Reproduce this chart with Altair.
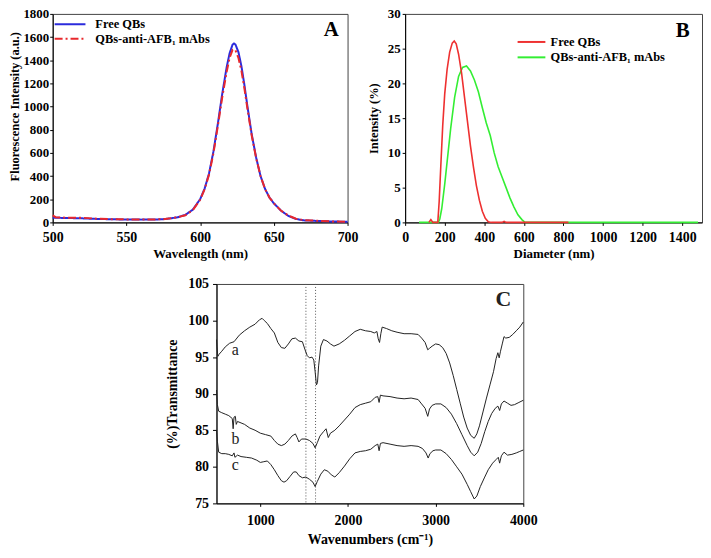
import altair as alt
import pandas as pd

SERIF = "Liberation Serif"

# ---------------- Panel A : fluorescence spectra ----------------
a_series = ["Free QBs", "QBs-anti-AFB₁ mAbs"]
a_wavelength = [500, 502, 510, 520, 530, 540, 550, 560, 570, 575, 580, 585, 590, 595,
                600, 603, 606, 609, 612, 615, 618, 620, 622, 623, 624, 626, 628, 630,
                632, 635, 638, 641, 644, 647, 650, 655, 660, 665, 670, 680, 690, 700]
a_free = [40, 40, 38, 35, 30, 27, 25, 24, 25, 28, 35, 45, 65, 110,
          200, 290, 420, 610, 850, 1110, 1340, 1460, 1535, 1545, 1535, 1470, 1350, 1190,
          1010, 760, 560, 400, 290, 215, 165, 100, 55, 30, 18, 12, 8, 5]
a_conj = [60, 45, 40, 40, 32, 28, 26, 24, 26, 28, 35, 45, 62, 105,
          195, 285, 410, 595, 830, 1080, 1300, 1420, 1490, 1495, 1485, 1420, 1310, 1160,
          990, 750, 555, 400, 290, 215, 165, 100, 58, 32, 20, 14, 8, 6]
a_x_ticks = [500, 550, 600, 650, 700]
a_y_ticks = [0, 200, 400, 600, 800, 1000, 1200, 1400, 1600, 1800]
a_colors = ["#2b2bdc", "#e8282c"]
a_letter = {"wl": [689], "val": [1660], "t": ["A"]}

# ---------------- Panel B : DLS size distribution ----------------
b_series = ["Free QBs", "QBs-anti-AFB₁ mAbs"]
b_free_d = [120, 130, 140, 150, 165, 172, 180, 190, 200, 212, 225, 238, 248, 258, 270,
            285, 300, 315, 330, 345, 360, 375, 390, 405, 420, 435, 460, 490, 500, 510,
            600, 700, 825]
b_free_i = [0, 0.4, 0, 0, 0, 3, 8, 14, 18.5, 22, 24.5, 25.8, 26.1, 25.7, 24.2,
            21.5, 18, 14.5, 11, 8, 5.3, 3.2, 1.6, 0.6, 0.1, 0, 0, 0, 0.15, 0,
            0, 0, 0]
b_conj_d = [70, 100, 150, 168, 175, 185, 200, 215, 230, 250, 270, 290, 310, 330, 350,
            370, 390, 410, 430, 450, 470, 490, 510, 530, 550, 570, 590, 605, 700, 900,
            1200, 1480]
b_conj_i = [0, 0, 0, 0, 0.5, 2, 5.5, 9.5, 13.5, 18, 21, 22.3, 22.5, 21.8, 20.5,
            18.8, 16.5, 14.3, 12.5, 10, 8, 6.5, 5, 3.5, 2.2, 1.1, 0.4, 0, 0, 0,
            0, 0]
b_x_ticks = [0, 200, 400, 600, 800, 1000, 1200, 1400]
b_y_ticks = [0, 5, 10, 15, 20, 25, 30]
b_colors = ["#ee3030", "#33ee33"]
b_letter = {"d": [1403], "i": [27.6], "t": ["B"]}

# ---------------- Panel C : FTIR spectra ----------------
c_a_wn = [500, 505, 515, 530, 560, 600, 650, 700, 760, 820, 880, 940, 990, 1020, 1045,
          1080, 1120, 1160, 1200, 1240, 1280, 1320, 1360, 1400, 1440, 1480, 1510, 1535,
          1560, 1590, 1610, 1625, 1640, 1652, 1665, 1690, 1720, 1760, 1800, 1840, 1900,
          1960, 2020, 2080, 2140, 2200, 2260, 2300, 2330, 2345, 2360, 2375, 2390, 2440,
          2500, 2560, 2640, 2720, 2800, 2840, 2880, 2910, 2930, 2960, 3000, 3040, 3080,
          3120, 3160, 3200, 3240, 3280, 3320, 3360, 3400, 3440, 3470, 3500, 3540, 3580,
          3620, 3660, 3690, 3710, 3725, 3740, 3760, 3780, 3800, 3840, 3880, 3920, 3960, 4000]
c_a_t = [97.4, 96.5, 95.1, 95.4, 95.8, 96.4, 96.9, 97.1, 98.0, 98.6, 99.1, 99.5, 100.1, 100.3, 100.0,
         99.6, 98.9, 98.3, 97.0, 96.3, 96.2, 96.8, 97.5, 97.6, 97.2, 97.1, 96.0, 95.2,
         94.9, 95.0, 94.6, 93.0, 91.2, 91.5, 93.8, 96.5, 97.4, 97.2, 96.8, 96.5, 96.8,
         97.3, 97.9, 98.5, 98.8, 98.6, 98.5, 98.3, 98.5, 97.5, 97.0, 98.2, 99.1, 98.9,
         98.6, 98.4, 98.2, 98.2, 98.1, 97.6, 97.0, 96.0, 96.2, 96.5, 96.8, 96.7, 96.3,
         95.5, 94.2, 92.5, 90.6, 88.7, 86.8, 85.3, 84.3, 83.9, 84.5, 85.6, 87.5, 89.4,
         91.2, 93.0, 94.8, 95.6, 94.9, 95.8, 96.8, 97.8, 97.6, 97.7, 98.1, 98.6, 99.1, 99.8]
c_b_wn = [500, 510, 525, 560, 600, 640, 680, 690, 700, 715, 725, 740, 780, 820, 880,
          940, 1000, 1060, 1120, 1160, 1200, 1240, 1280, 1320, 1360, 1400, 1420, 1440,
          1470, 1520, 1560, 1600, 1625, 1650, 1680, 1720, 1750, 1775, 1800, 1850, 1900,
          1960, 2020, 2080, 2140, 2200, 2260, 2310, 2340, 2355, 2370, 2400, 2480, 2560,
          2640, 2720, 2800, 2840, 2880, 2910, 2930, 2960, 3000, 3060, 3120, 3180, 3240,
          3300, 3360, 3400, 3440, 3480, 3520, 3560, 3600, 3640, 3680, 3710, 3730, 3750,
          3780, 3820, 3860, 3900, 3950, 4000]
c_b_t = [90.5, 88.5, 87.6, 87.4, 87.2, 87.0, 86.6, 85.2, 86.8, 86.9, 85.8, 86.2, 86.0, 85.8, 85.3,
         85.0, 84.6, 84.4, 84.2, 83.6, 83.1, 82.9, 83.1, 83.6, 84.2, 84.5, 84.0, 83.4,
         83.8, 83.8, 83.6, 83.2, 82.6, 83.3, 84.2, 84.8, 85.2, 84.0, 84.6, 85.0, 85.6,
         86.4, 87.2, 88.1, 88.5, 88.7, 88.9, 89.5, 89.6, 88.8, 89.8, 89.7, 89.6, 89.4,
         89.3, 89.4, 89.2, 88.6, 88.0, 86.9, 87.9, 88.4, 88.6, 88.6, 88.1, 87.2, 85.9,
         84.4, 82.9, 82.0, 81.5, 82.0, 83.2, 84.8, 86.2, 87.3, 88.0, 88.3, 87.7, 88.6,
         89.0, 88.7, 88.4, 88.5, 88.8, 89.1]
c_c_wn = [500, 510, 525, 560, 600, 640, 680, 700, 710, 740, 780, 840, 900, 960, 1000,
          1040, 1080, 1120, 1160, 1200, 1240, 1270, 1300, 1340, 1380, 1410, 1440, 1480,
          1520, 1560, 1600, 1625, 1650, 1690, 1730, 1770, 1810, 1850, 1900, 1960, 2020,
          2080, 2140, 2200, 2260, 2310, 2340, 2355, 2370, 2400, 2480, 2560, 2640, 2720,
          2800, 2850, 2890, 2915, 2935, 2970, 3000, 3060, 3120, 3180, 3240, 3300, 3360,
          3400, 3440, 3470, 3510, 3560, 3600, 3650, 3690, 3715, 3730, 3750, 3780, 3820,
          3870, 3920, 3960, 4000]
c_c_t = [85.0, 83.5, 82.0, 81.8, 81.8, 81.7, 81.5, 81.9, 81.3, 81.6, 81.4, 81.3, 81.2, 80.9, 80.6,
         80.7, 80.8, 80.3, 79.6, 78.8, 78.1, 77.9, 78.1, 78.7, 79.3, 79.3, 78.8, 78.5,
         78.6, 78.3, 77.9, 77.3, 78.0, 79.0, 79.6, 79.4, 78.9, 78.6, 79.2, 80.1, 81.1,
         81.9, 82.1, 82.2, 82.4, 82.9, 83.1, 82.2, 83.2, 83.3, 83.1, 82.9, 82.8, 82.9,
         82.8, 82.5, 81.9, 81.2, 81.8, 82.2, 82.3, 82.3, 81.8, 81.0, 80.0, 79.0, 77.6,
         76.6, 75.6, 76.0, 77.3, 78.6, 79.6, 80.5, 81.0, 81.3, 80.5, 81.5, 82.0, 81.6,
         81.7, 81.9, 82.1, 82.3]
c_x_ticks = [1000, 2000, 3000, 4000]
c_y_ticks = [75, 80, 85, 90, 95, 100, 105]
c_dotted = [1520, 1630]
c_labels = {"wn": [715, 715, 715], "tr": [96.0, 83.8, 80.2], "t": ["a", "b", "c"]}
c_letter = {"wn": [3773], "tr": [102.9], "t": ["C"]}

LINE_SYMBOL = "M-3,0H3"

# ---------------- build panel A ----------------
n_a = len(a_wavelength)
dfA = pd.DataFrame({"wl": a_wavelength * 2, "val": a_free + a_conj,
                    "series": [a_series[0]] * n_a + [a_series[1]] * n_a})
legA = alt.Legend(title=None, orient="none", legendX=11, legendY=4, symbolType=LINE_SYMBOL,
                  symbolSize=107, symbolStrokeWidth=2, labelFont=SERIF, labelFontWeight="bold",
                  labelFontSize=12.5, labelOffset=19, padding=0, rowPadding=1.5)
xA = alt.X("wl:Q", scale=alt.Scale(domain=[500, 700], nice=False, zero=False),
           axis=alt.Axis(values=a_x_ticks, title="Wavelength (nm)", titleFontSize=13,
                         tickSize=3, labelPadding=5, titlePadding=3))
yA = alt.Y("val:Q", scale=alt.Scale(domain=[0, 1800], nice=False),
           axis=alt.Axis(values=a_y_ticks, title="Fluorescence Intensity (a.u.)", titleFontSize=12.5,
                         labelFontSize=13, tickSize=3, labelPadding=1, titlePadding=1, titleY=93))
linesA = alt.Chart(dfA).mark_line(strokeWidth=2).encode(
    x=xA, y=yA,
    color=alt.Color("series:N", scale=alt.Scale(domain=a_series, range=a_colors), legend=legA),
    strokeDash=alt.StrokeDash("series:N", scale=alt.Scale(domain=a_series, range=[[1, 0], [8, 3, 2, 3]]),
                              legend=legA),
)
letterA = alt.Chart(pd.DataFrame(a_letter)).mark_text(
    font=SERIF, fontWeight="bold", fontSize=21, align="center", baseline="middle", color="black"
).encode(x=xA, y=yA, text="t:N")
A = alt.layer(linesA, letterA).properties(width=297, height=210)

# ---------------- build panel B ----------------
dfB_free = pd.DataFrame({"d": b_free_d, "i": b_free_i, "grp": b_series[0]})
dfB_conj = pd.DataFrame({"d": b_conj_d, "i": b_conj_i, "grp": b_series[1]})
legB = alt.Legend(title=None, orient="none", legendX=121, legendY=22, symbolType=LINE_SYMBOL,
                  symbolSize=87, symbolStrokeWidth=2, labelFont=SERIF, labelFontWeight="bold",
                  labelFontSize=12.5, labelOffset=13, padding=0, rowPadding=2.5)
xB = alt.X("d:Q", scale=alt.Scale(domain=[0, 1500], nice=False),
           axis=alt.Axis(values=b_x_ticks, title="Diameter (nm)", titleFontSize=13,
                         tickSize=3, labelPadding=5, titlePadding=3))
yB = alt.Y("i:Q", scale=alt.Scale(domain=[0, 30], nice=False),
           axis=alt.Axis(values=b_y_ticks, title="Intensity (%)", titleFontSize=12.5,
                         labelFontSize=13, tickSize=3, labelPadding=2, titlePadding=7))
colB = alt.Color("grp:N", scale=alt.Scale(domain=b_series, range=b_colors), legend=legB)
conjB = alt.Chart(dfB_conj).mark_line(strokeWidth=1.6).encode(x=xB, y=yB, color=colB)
freeB = alt.Chart(dfB_free).mark_line(strokeWidth=1.6).encode(x=xB, y=yB, color=colB)
letterB = alt.Chart(pd.DataFrame(b_letter)).mark_text(
    font=SERIF, fontWeight="bold", fontSize=21, align="center", baseline="middle", color="black"
).encode(x=xB, y=yB, text="t:N")
B = alt.layer(conjB, freeB, letterB).properties(width=299, height=210)

# ---------------- build panel C ----------------
dfC = pd.concat([
    pd.DataFrame({"wn": c_a_wn, "tr": c_a_t, "curve": "a"}),
    pd.DataFrame({"wn": c_b_wn, "tr": c_b_t, "curve": "b"}),
    pd.DataFrame({"wn": c_c_wn, "tr": c_c_t, "curve": "c"}),
])
xC = alt.X("wn:Q", scale=alt.Scale(domain=[500, 4000], nice=False, zero=False),
           axis=alt.Axis(values=c_x_ticks, title="Wavenumbers (cm⁻¹)", titleFontSize=14,
                         tickSize=3, labelPadding=7, titlePadding=5))
yC = alt.Y("tr:Q", scale=alt.Scale(domain=[75, 105], nice=False, zero=False),
           axis=alt.Axis(values=c_y_ticks, title="(%)Transmittance", titleFontSize=14,
                         tickSize=4, labelPadding=4, titlePadding=8))
linesC = alt.Chart(dfC).mark_line(color="#222222", strokeWidth=1).encode(x=xC, y=yC, detail="curve:N")
rulesC = alt.Chart(pd.DataFrame({"wn": c_dotted})).mark_rule(
    color="#555555", strokeDash=[1, 2], strokeWidth=1).encode(x=xC)
labelsC = alt.Chart(pd.DataFrame(c_labels)).mark_text(
    font=SERIF, fontSize=16, align="center", baseline="middle", color="#222222"
).encode(x=xC, y=yC, text="t:N")
letterC = alt.Chart(pd.DataFrame(c_letter)).mark_text(
    font=SERIF, fontWeight="bold", fontSize=22, align="center", baseline="middle", color="#222222"
).encode(x=xC, y=yC, text="t:N")
C = alt.layer(rulesC, linesC, labelsC, letterC).properties(width=309, height=221)

spacer = alt.Chart(pd.DataFrame({"v": [0]})).mark_point(opacity=0).encode(
    x=alt.X("v:Q", axis=None, scale=alt.Scale(domain=[0, 1])),
    y=alt.Y("v:Q", axis=None, scale=alt.Scale(domain=[0, 1]))
).properties(width=102, height=1, view=alt.ViewBackground(stroke="transparent"))

top = alt.hconcat(A, B, spacing=8).resolve_scale(
    color="independent", strokeDash="independent").resolve_legend(
    color="independent", strokeDash="independent")
bottom = alt.hconcat(spacer, C, spacing=10)

chart = alt.vconcat(
    top, bottom, spacing=15,
    padding={"left": 0, "top": -3, "right": 0, "bottom": 0},
).configure_axis(
    labelFont=SERIF, labelFontWeight="bold", labelFontSize=14, labelColor="black",
    titleFont=SERIF, titleFontWeight="bold", titleColor="black", format="d",
    domainColor="black", tickColor="black", grid=False, labelFlush=False, labelOverlap=False,
).configure_view(stroke="#444444", strokeWidth=1)

chart.save("out.html", embed_options={"renderer": "svg", "actions": False})
